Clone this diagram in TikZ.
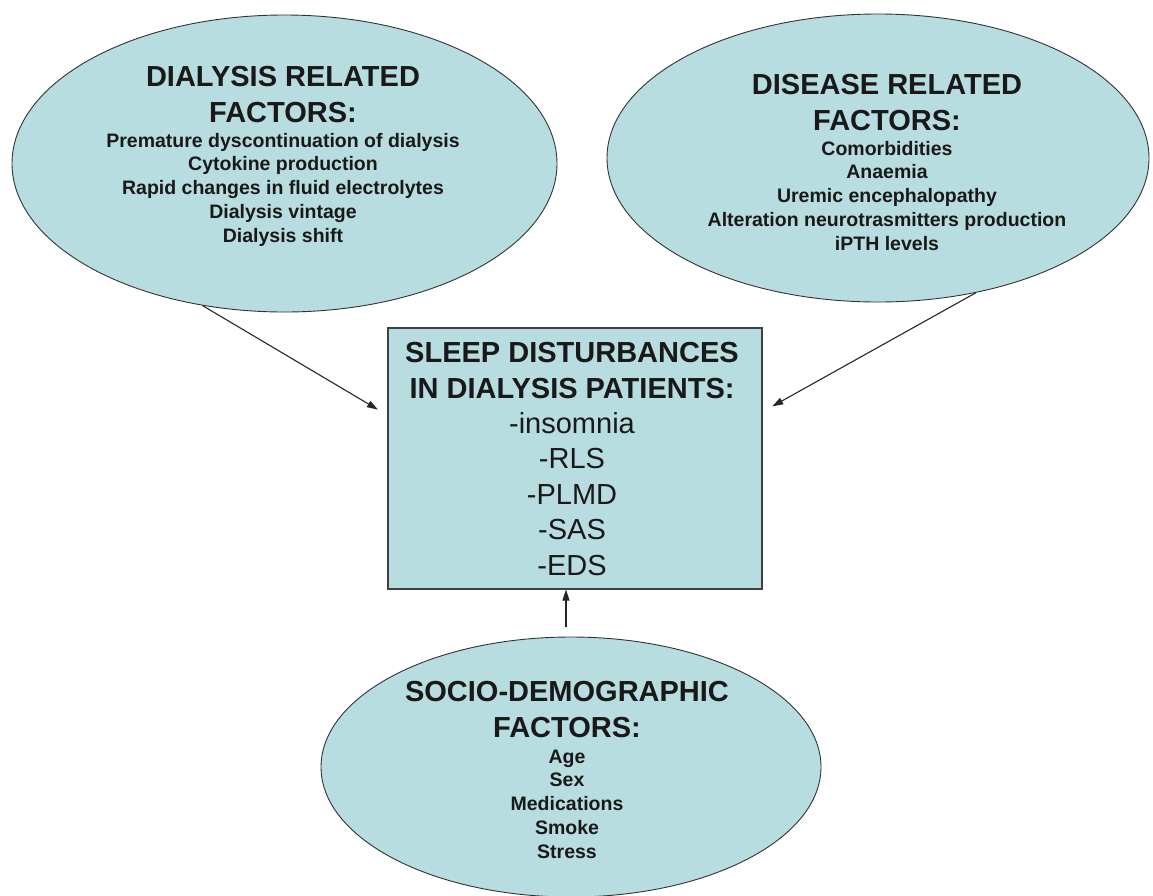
\documentclass[tikz,border=0pt]{standalone}
\usepackage{fontspec}
\setmainfont{Liberation Sans}
\usetikzlibrary{shapes.geometric,arrows.meta}
\definecolor{factorblue}{RGB}{184,221,224}

\begin{document}
\begin{tikzpicture}[x=1pt,y=-1pt,
	factor/.style={ellipse,draw=black!80,line width=0.9pt,fill=factorblue,inner sep=0pt},
	sleepbox/.style={rectangle,draw=black!75,line width=1.2pt,fill=factorblue,inner sep=0pt},
	head/.style={anchor=base,align=center,text=black!90,font=\fontsize{29}{35.5}\selectfont\bfseries},
	items/.style={anchor=base,align=center,text=black!90,font=\fontsize{19.5}{23.7}\selectfont\bfseries},
	symp/.style={anchor=base,align=center,text=black!90,font=\fontsize{29}{35.5}\selectfont},
	arr/.style={-{Triangle[length=11pt,width=7pt]},draw=black!85,line width=1.1pt}]
	\useasboundingbox (0,0) rectangle (1153,895);
	\node[factor,minimum width=545pt,minimum height=297pt] (dial) at (284.5,163.5) {};
	\node[factor,minimum width=542pt,minimum height=288pt] (dis) at (878,158) {};
	\node[factor,minimum width=500pt,minimum height=260pt] (soc) at (571,767) {};
	\node[sleepbox,minimum width=374pt,minimum height=261pt] (sleep) at (575,458.5) {};
	\node[head] (dialhead) at (283,122) {DIALYSIS RELATED\\FACTORS:};
	\node[items] (dialitems) at (283,242) {Premature dyscontinuation of dialysis\\Cytokine production\\Rapid changes in fluid electrolytes\\Dialysis vintage\\Dialysis shift};
	\node[head] (dishead) at (887,130) {DISEASE RELATED\\FACTORS:};
	\node[items] (disitems) at (887,250) {Comorbidities\\Anaemia\\Uremic encephalopathy\\Alteration neurotrasmitters production\\iPTH levels};
	\node[head] (sochead) at (567,737) {SOCIO-DEMOGRAPHIC\\FACTORS:};
	\node[items] (socitems) at (567,858) {Age\\Sex\\Medications\\Smoke\\Stress};
	\node[head] (sleephead) at (572,398) {SLEEP DISTURBANCES\\IN DIALYSIS PATIENTS:};
	\node[symp] (sleepitems) at (572,575) {-insomnia\\-RLS\\-PLMD\\-SAS\\-EDS};
	\coordinate (socin) at (566,627);
	\draw[arr,shorten >=11pt] (dial.240) -- (sleep.167);
	\draw[arr,shorten >=11pt] (dis.306) -- (sleep.14);
	\draw[arr] (socin) -- (socin |- sleep.south);
\end{tikzpicture}
\end{document}
